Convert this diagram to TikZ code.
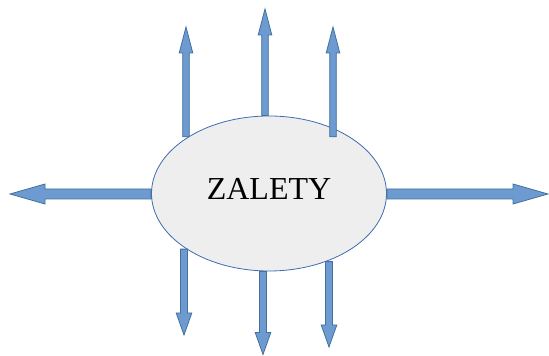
\documentclass[tikz,border=0pt]{standalone}
\usepackage{fontspec}
\setmainfont{Liberation Serif}
\usepackage{tikz}
\usetikzlibrary{positioning, calc, shapes.geometric}
\definecolor{arrfill}{HTML}{6D9BD1}
\definecolor{arrline}{HTML}{41719C}
\definecolor{ellfill}{HTML}{EEEEEE}
\definecolor{ellline}{HTML}{3F6DB0}

\begin{document}
\begin{tikzpicture}[
    x=1pt, y=1pt,
    ellnode/.style={ellipse, draw=ellline, fill=ellfill, line width=0.8pt, minimum width=235pt, minimum height=155pt, inner sep=0pt, font=\fontsize{32}{32}\selectfont, text height=22pt, text depth=10pt},
    arrshaft/.store in=\arrshaft, arrheadw/.store in=\arrheadw, arrheadl/.store in=\arrheadl,
    blockarrow/.style={draw=arrline, fill=arrfill, line width=0.8pt,
        to path={let \p1=(\tikztostart), \p2=(\tikztotarget), \n1={atan2(\y2-\y1,\x2-\x1)} in
            ([shift={(\p1)},rotate=\n1]0pt,\arrshaft) -- ([shift={(\p2)},rotate=\n1]-\arrheadl,\arrshaft)
            -- ([shift={(\p2)},rotate=\n1]-\arrheadl,\arrheadw) -- (\p2)
            -- ([shift={(\p2)},rotate=\n1]-\arrheadl,-\arrheadw) -- ([shift={(\p2)},rotate=\n1]-\arrheadl,-\arrshaft)
            -- ([shift={(\p1)},rotate=\n1]0pt,-\arrshaft) -- cycle}},
    uparrow/.style={blockarrow, arrshaft=3.3pt, arrheadw=6.8pt, arrheadl=26pt},
    downarrow/.style={blockarrow, arrshaft=3.5pt, arrheadw=7.8pt, arrheadl=22pt},
    horarrow/.style={blockarrow, arrshaft=5pt, arrheadw=10pt, arrheadl=35pt},
]
\useasboundingbox (0,0) rectangle (549,356);
\node[ellnode](zal) at (269,162.5){ZALETY\hspace{9pt}};
% arrow tips
\coordinate (t1) at (186,329);
\coordinate (t2) at (265,347);
\coordinate (t3) at (333,329);
\coordinate (l) at (10,162);
\coordinate (r) at (548,162);
\coordinate (b1) at (184,21);
\coordinate (b2) at (263,1.5);
\coordinate (b3) at (329,9);
\draw[uparrow] (t1 |- zal.145) to (t1);
\draw[uparrow] (t2 |- zal.north) to (t2);
\draw[uparrow] (t3 |- zal.35) to (t3);
\draw[horarrow] (zal.west |- l) to (l);
\draw[horarrow] (zal.east |- r) to (r);
\draw[downarrow] (b1 |- zal.214) to (b1);
\draw[downarrow] (b2 |- zal.south) to (b2);
\draw[downarrow] (b3 |- zal.310) to (b3);
\end{tikzpicture}
\end{document}
